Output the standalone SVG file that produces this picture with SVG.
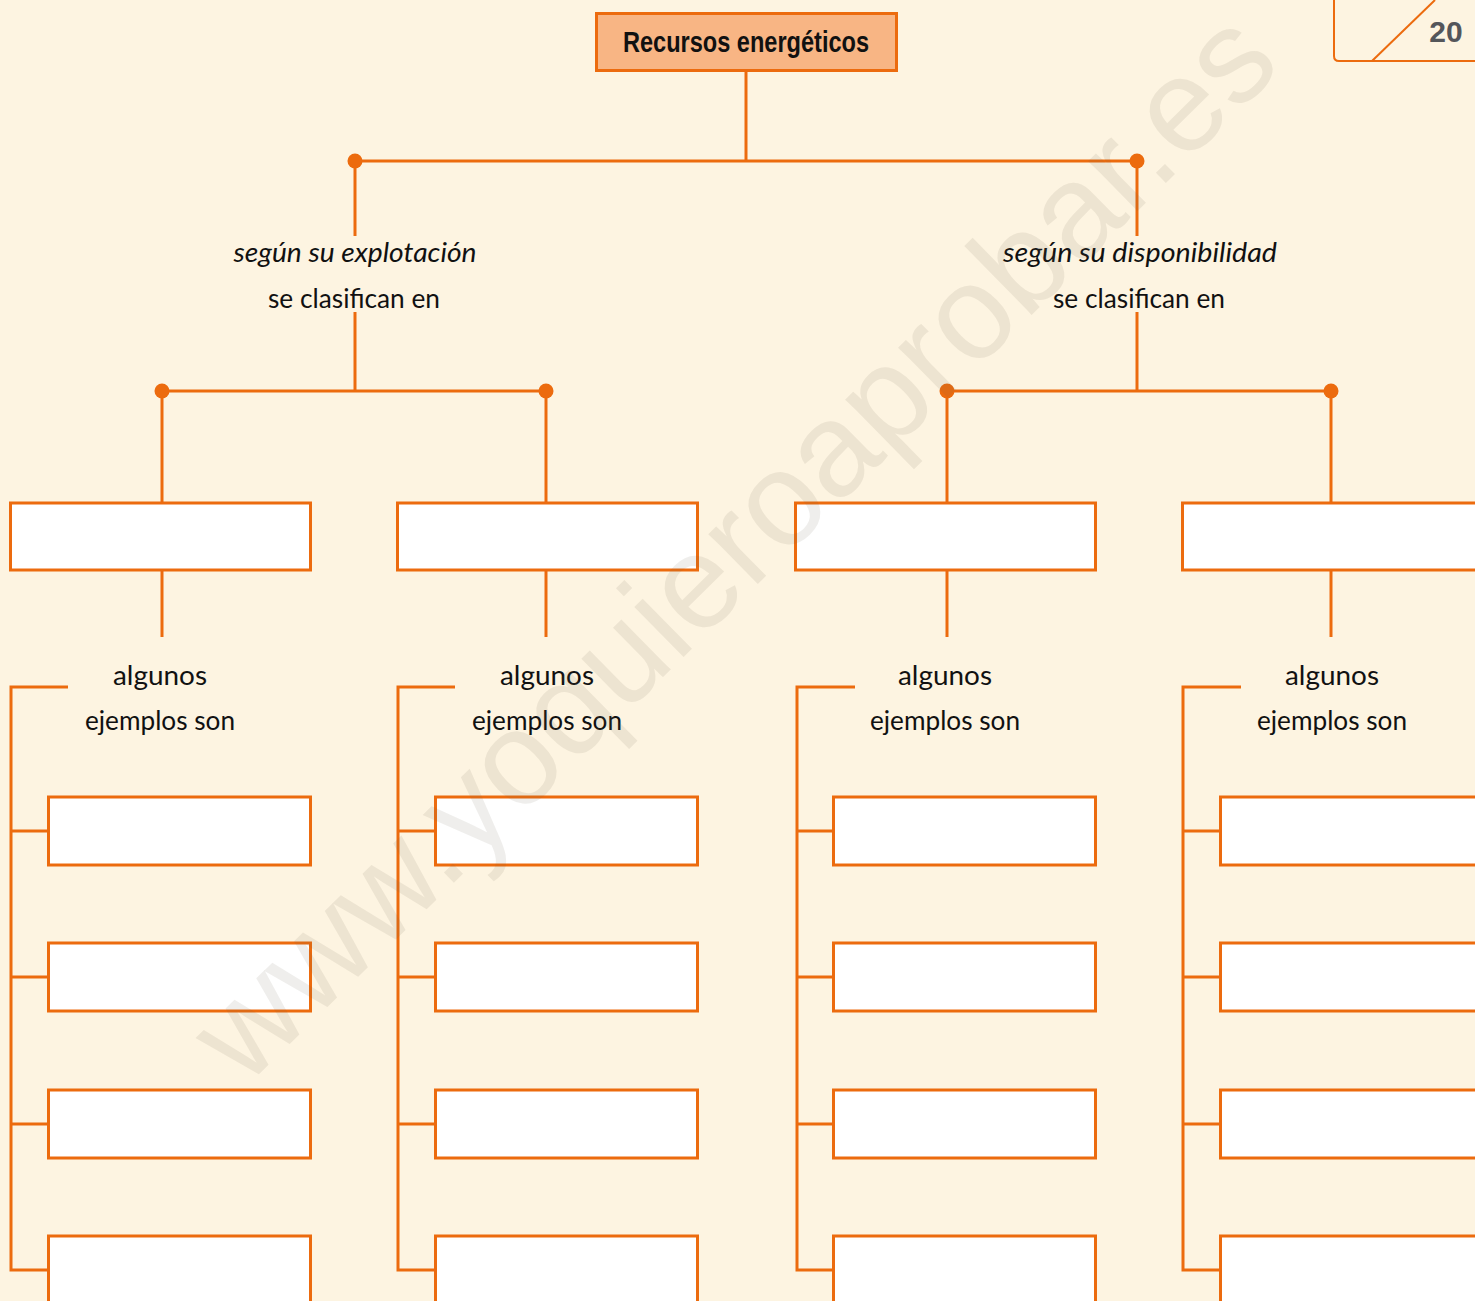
<svg xmlns="http://www.w3.org/2000/svg" width="1475" height="1301" viewBox="0 0 1475 1301">
<style>
.bg{fill:#FDF4E1}
.ln{stroke:#EC6B0E;stroke-width:3;fill:none}
.box{fill:#FFFFFF;stroke:#EC6B0E;stroke-width:3}
.dot{fill:#EC6B0E}
.lbl{font-family:Lato,"Open Sans",sans-serif;font-size:27px;font-weight:400;fill:#111111;text-anchor:middle}
.title{font-family:"Liberation Sans",Arial,sans-serif;font-weight:bold;font-size:30px;fill:#111111;text-anchor:middle}
.wm{font-family:"Liberation Sans",Arial,sans-serif;font-size:133px;fill:#6B6050;fill-opacity:0.11}
</style>
<rect class="bg" x="0" y="0" width="1475" height="1301"/>

<g id="page-number">
<path d="M1334,0 V56 Q1334,61 1339,61 H1475" class="ln" style="stroke-width:2"/>
<line x1="1372" y1="61" x2="1435" y2="0" class="ln" style="stroke-width:2"/>
<text x="1446" y="42" style="font-family:'Liberation Sans',Arial,sans-serif;font-weight:bold;font-size:30px;fill:#54565A;text-anchor:middle">20</text>
</g>

<g id="connectors">
<line class="ln" x1="746" y1="71" x2="746" y2="161"/>
<line class="ln" x1="355" y1="161" x2="1137" y2="161"/>
<line class="ln" x1="355" y1="161" x2="355" y2="236"/>
<line class="ln" x1="355" y1="312" x2="355" y2="391"/>
<line class="ln" x1="1137" y1="161" x2="1137" y2="236"/>
<line class="ln" x1="1137" y1="312" x2="1137" y2="391"/>
<line class="ln" x1="162" y1="391" x2="546" y2="391"/>
<line class="ln" x1="947" y1="391" x2="1331" y2="391"/>
<line class="ln" x1="162" y1="391" x2="162" y2="503"/>
<line class="ln" x1="546" y1="391" x2="546" y2="503"/>
<line class="ln" x1="947" y1="391" x2="947" y2="503"/>
<line class="ln" x1="1331" y1="391" x2="1331" y2="503"/>
<line class="ln" x1="162" y1="570" x2="162" y2="637"/>
<line class="ln" x1="546" y1="570" x2="546" y2="637"/>
<line class="ln" x1="947" y1="570" x2="947" y2="637"/>
<line class="ln" x1="1331" y1="570" x2="1331" y2="637"/>
<path class="ln" d="M68,687 H11 V1270 H48 M11,831 H48 M11,977 H48 M11,1124 H48"/>
<path class="ln" d="M455,687 H398 V1270 H435 M398,831 H435 M398,977 H435 M398,1124 H435"/>
<path class="ln" d="M855,687 H797 V1270 H834 M797,831 H834 M797,977 H834 M797,1124 H834"/>
<path class="ln" d="M1241,687 H1183 V1270 H1220 M1183,831 H1220 M1183,977 H1220 M1183,1124 H1220"/>
<circle class="dot" cx="355" cy="161" r="7.5"/>
<circle class="dot" cx="1137" cy="161" r="7.5"/>
<circle class="dot" cx="162" cy="391" r="7.5"/>
<circle class="dot" cx="546" cy="391" r="7.5"/>
<circle class="dot" cx="947" cy="391" r="7.5"/>
<circle class="dot" cx="1331" cy="391" r="7.5"/>
</g>

<g id="root">
<rect x="596.5" y="13.5" width="300" height="57" style="fill:#F8B584;stroke:#EC6B0E;stroke-width:3"/>
<text class="title" x="746" y="52" textLength="246" lengthAdjust="spacingAndGlyphs">Recursos energéticos</text>
</g>

<g id="label-explotacion">
<text class="lbl" x="355" y="262" textLength="243" lengthAdjust="spacingAndGlyphs" font-style="italic">según su explotación</text>
<text class="lbl" x="354" y="308" textLength="172" lengthAdjust="spacingAndGlyphs">se clasifican en</text>
</g>
<g id="label-disponibilidad">
<text class="lbl" x="1140" y="262" textLength="274" lengthAdjust="spacingAndGlyphs" font-style="italic">según su disponibilidad</text>
<text class="lbl" x="1139" y="308" textLength="172" lengthAdjust="spacingAndGlyphs">se clasifican en</text>
</g>

<g id="category-1"><rect class="box" x="10.5" y="503" width="300" height="67"/></g>
<g id="category-2"><rect class="box" x="397.5" y="503" width="300" height="67"/></g>
<g id="category-3"><rect class="box" x="795.5" y="503" width="300" height="67"/></g>
<g id="category-4"><rect class="box" x="1182.5" y="503" width="300" height="67"/></g>

<g id="label-ejemplos-1">
<text class="lbl" x="160" y="685" textLength="94" lengthAdjust="spacingAndGlyphs">algunos</text>
<text class="lbl" x="160" y="730" textLength="150" lengthAdjust="spacingAndGlyphs">ejemplos son</text>
</g>
<g id="label-ejemplos-2">
<text class="lbl" x="547" y="685" textLength="94" lengthAdjust="spacingAndGlyphs">algunos</text>
<text class="lbl" x="547" y="730" textLength="150" lengthAdjust="spacingAndGlyphs">ejemplos son</text>
</g>
<g id="label-ejemplos-3">
<text class="lbl" x="945" y="685" textLength="94" lengthAdjust="spacingAndGlyphs">algunos</text>
<text class="lbl" x="945" y="730" textLength="150" lengthAdjust="spacingAndGlyphs">ejemplos son</text>
</g>
<g id="label-ejemplos-4">
<text class="lbl" x="1332" y="685" textLength="94" lengthAdjust="spacingAndGlyphs">algunos</text>
<text class="lbl" x="1332" y="730" textLength="150" lengthAdjust="spacingAndGlyphs">ejemplos son</text>
</g>

<g id="examples-1">
<rect class="box" x="48.5" y="797" width="262" height="68"/>
<rect class="box" x="48.5" y="943" width="262" height="68"/>
<rect class="box" x="48.5" y="1090" width="262" height="68"/>
<rect class="box" x="48.5" y="1236" width="262" height="68"/>
</g>
<g id="examples-2">
<rect class="box" x="435.5" y="797" width="262" height="68"/>
<rect class="box" x="435.5" y="943" width="262" height="68"/>
<rect class="box" x="435.5" y="1090" width="262" height="68"/>
<rect class="box" x="435.5" y="1236" width="262" height="68"/>
</g>
<g id="examples-3">
<rect class="box" x="833.5" y="797" width="262" height="68"/>
<rect class="box" x="833.5" y="943" width="262" height="68"/>
<rect class="box" x="833.5" y="1090" width="262" height="68"/>
<rect class="box" x="833.5" y="1236" width="262" height="68"/>
</g>
<g id="examples-4">
<rect class="box" x="1220.5" y="797" width="262" height="68"/>
<rect class="box" x="1220.5" y="943" width="262" height="68"/>
<rect class="box" x="1220.5" y="1090" width="262" height="68"/>
<rect class="box" x="1220.5" y="1236" width="262" height="68"/>
</g>

<text class="wm" x="245" y="1088" transform="rotate(-44.5 245 1088)">www.yoquieroaprobar.es</text>
</svg>
